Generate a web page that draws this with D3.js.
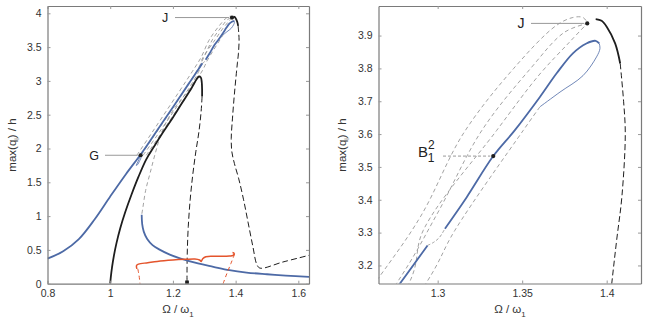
<!DOCTYPE html>
<html>
<head>
<meta charset="utf-8">
<script src="https://cdn.jsdelivr.net/npm/d3@7"></script>
<style>
  body { margin: 0; background: #fff; }
  text { font-family: "Liberation Sans", Arial, sans-serif; }
</style>
</head>
<body>
<div id="container"></div>
<script>
let w = 648;
let h = 325;

// ---- data (Omega/omega1, max(q)/h) ----
let blueUpper = [[0.8,0.37],[0.85,0.48],[0.9,0.66],[0.95,0.95],[1.0,1.29],[1.05,1.62],[1.1,1.93],
  [1.15,2.27],[1.2,2.61],[1.25,2.956],[1.2777,3.145],[1.294,3.261]];
let blueUpper2 = [[1.3043,3.312],[1.3172,3.408],[1.3329,3.533],[1.3457,3.612],[1.3605,3.713],[1.3704,3.785],
  [1.380,3.846],[1.388,3.876],[1.3935,3.884],[1.3956,3.876]];
let blueThinLoop = [[1.3956,3.876],[1.396,3.86],[1.394,3.835],[1.386,3.778],[1.3724,3.728],[1.3605,3.683]];
let blueThinG = [[1.10,1.93],[1.088,1.80],[1.083,1.75],[1.087,1.76],[1.10,1.88]];
let blueLower = [[1.1004,1.02],[1.102,0.88],[1.107,0.77],[1.118,0.66],[1.135,0.57],[1.159,0.50],[1.19,0.43],
  [1.2226,0.376],[1.28,0.3],[1.329,0.25],[1.38,0.2],[1.435,0.165],[1.5,0.14],[1.56,0.12],[1.634,0.10]];
let hook = [[1.294,3.261],[1.2975,3.27],[1.301,3.285],[1.3043,3.312]];

let blackBackbone = [[1.0,0],[1.002,0.1],[1.006,0.25],[1.012,0.42],[1.02,0.6],[1.032,0.82],[1.048,1.06],
  [1.068,1.32],[1.09,1.58],[1.115,1.84],[1.14,2.03],[1.17,2.25],[1.2,2.46],[1.23,2.68],[1.26,2.9],
  [1.275,3.02],[1.283,3.065],[1.289,3.05],[1.292,2.98],[1.293,2.88],[1.293,2.77]];
let blackDrop = [[1.293,2.77],[1.29,2.55],[1.283,2.25],[1.273,1.95],[1.263,1.6],[1.255,1.24],[1.249,0.85],
  [1.246,0.5],[1.245,0.2],[1.245,0.02]];
let blackPeak = [[1.3935,3.950],[1.397,3.945],[1.4,3.927],[1.405,3.876],[1.408,3.815]];
let blackPeakDash = [[1.408,3.815],[1.410,3.70],[1.411,3.60],[1.409,3.41],[1.4059,3.277],[1.403,3.145],
  [1.396,2.8],[1.39,2.45],[1.386,2.15],[1.388,1.95],[1.396,1.78],[1.41,1.55],[1.425,1.25],[1.44,0.9],
  [1.455,0.55],[1.468,0.28],[1.478,0.23],[1.55,0.32],[1.634,0.42]];

let grayUnstable = [[1.28,3.07],[1.2546,2.89],[1.201,2.57],[1.165,2.25],[1.145,1.95],[1.128,1.65],
  [1.113,1.38],[1.104,1.12],[1.1004,1.02]];
let grayL1 = [[1.085,1.90],[1.262,3.14],[1.29,3.35],[1.315,3.6],[1.345,3.8],[1.37,3.93],[1.38,3.955],[1.386,3.955],[1.3885,3.94]];
let grayL2 = [[1.098,1.90],[1.275,3.14],[1.30,3.36],[1.326,3.61],[1.355,3.80],[1.375,3.91],[1.3885,3.937]];
let grayL3 = [[1.105,1.90],[1.283,3.145],[1.2915,3.307],[1.3349,3.611],[1.36,3.78],[1.378,3.88],[1.3885,3.937]];
let grayL4 = [[1.115,1.90],[1.2935,3.149],[1.3102,3.307],[1.3506,3.611],[1.3605,3.683]];

let redSolid = [[1.085,0.22],[1.084,0.27],[1.09,0.29],[1.12,0.31],[1.15,0.33],[1.2,0.35],[1.24,0.36],
  [1.27,0.365],[1.285,0.35],[1.29,0.33],[1.295,0.37],[1.305,0.40],[1.34,0.405],[1.38,0.41],[1.392,0.42],
  [1.395,0.45],[1.39,0.46]];
let redDashL = [[1.088,0.22],[1.092,0.12],[1.095,0]];
let redDashR = [[1.397,0.44],[1.385,0.3],[1.372,0.15],[1.36,0]];

let pointJ = [1.3885, 3.937];
let pointG = [1.097, 1.90];
let pointB = [1.3329, 3.533];
let pointS = [1.245, 0.02];

let leftXTicks = [0.8, 1, 1.2, 1.4, 1.6];
let leftYTicks = [0, 0.5, 1, 1.5, 2, 2.5, 3, 3.5, 4];
let rightXTicks = [1.3, 1.35, 1.4];
let rightYTicks = [3.2, 3.3, 3.4, 3.5, 3.6, 3.7, 3.8, 3.9];

let blue = "#4d6aa6";
let dark = "#1e1e1e";
let grey = "#8a8a8a";
let red = "#e4542c";

let viz = d3.select("#container")
  .append("svg")
    .attr("width", w)
    .attr("height", h)
    .style("background-color", "white");

function makePanel(id, xDom, xRange, yDom, yRange, xTicks, yTicks){
  let x = d3.scaleLinear().domain(xDom).range(xRange);
  let y = d3.scaleLinear().domain(yDom).range(yRange);
  let g = viz.append("g");
  g.append("clipPath").attr("id", id)
    .append("rect")
      .attr("x", xRange[0]).attr("y", yRange[1])
      .attr("width", xRange[1] - xRange[0]).attr("height", yRange[0] - yRange[1]);
  let plot = g.append("g").attr("clip-path", "url(#" + id + ")");
  let fmt = d => d3.format("~g")(d);

  let ax = [
    {a: d3.axisBottom(x).tickValues(xTicks).tickFormat(fmt), t: "translate(0," + yRange[0] + ")"},
    {a: d3.axisTop(x).tickValues(xTicks).tickFormat(""), t: "translate(0," + yRange[1] + ")"},
    {a: d3.axisLeft(y).tickValues(yTicks).tickFormat(fmt), t: "translate(" + xRange[0] + ",0)"},
    {a: d3.axisRight(y).tickValues(yTicks).tickFormat(""), t: "translate(" + xRange[1] + ",0)"}
  ];
  ax.forEach(function(o){
    let s = g.append("g").attr("transform", o.t).call(o.a.tickSize(-3).tickPadding(6).tickSizeOuter(0));
    s.select(".domain").attr("stroke", "#7a7a7a").attr("stroke-width", 1.2);
    s.selectAll(".tick line").attr("stroke", "#999");
    s.selectAll(".tick text").attr("fill", "#333").style("font-size", "10.5px")
      .style("font-family", "Liberation Sans, Arial, sans-serif");
  });
  return {x: x, y: y, g: g, plot: plot};
}

function drawCurves(p, thick){
  let line = d3.line().x(d => p.x(d[0])).y(d => p.y(d[1])).curve(d3.curveCatmullRom);
  let add = function(data, color, width, dash){
    p.plot.append("path").datum(data)
      .attr("d", line)
      .attr("fill", "none")
      .attr("stroke", color)
      .attr("stroke-width", width)
      .attr("stroke-dasharray", dash || null);
  };
  [grayL1, grayL2, grayL3, grayL4].forEach(d => add(d, grey, 0.8, "4,3"));
  add(grayUnstable, grey, 0.8, "4,3");
  add(hook, grey, 0.8, "3,2");
  add(blackDrop, dark, 1.0, "6,3");
  add(blackPeakDash, dark, 1.0, "6,3");
  add(blueLower, blue, thick, null);
  add(blueUpper, blue, thick, null);
  add(blueUpper2, blue, thick, null);
  add(blueThinLoop, blue, 0.8, null);
  add(blueThinG, blue, 0.8, null);
  add(blackBackbone, dark, thick, null);
  add(blackPeak, dark, thick, null);
  add(redSolid, red, 1.5, null);
  add(redDashL, red, 1.0, "4,3");
  add(redDashR, red, 1.0, "4,3");
}

function marker(p, pt, shape){
  p.plot.append("path")
    .attr("d", d3.symbol().type(shape).size(14)())
    .attr("transform", "translate(" + p.x(pt[0]) + "," + p.y(pt[1]) + ")")
    .attr("fill", dark);
}

function leader(p, pt, lx, dashed){
  let px = p.x(pt[0]), py = p.y(pt[1]);
  p.g.append("line")
    .attr("x1", lx).attr("y1", py).attr("x2", px - 3).attr("y2", py)
    .attr("stroke", "#999").attr("stroke-width", 1)
    .attr("stroke-dasharray", dashed ? "3,2" : null);
}

// ---- left panel ----
let left = makePanel("clipL", [0.8, 1.634], [47.5, 309], [0, 4.108], [283.7, 6], leftXTicks, leftYTicks);
drawCurves(left, 1.8);
marker(left, pointJ, d3.symbolCircle);
marker(left, pointG, d3.symbolCircle);
marker(left, pointS, d3.symbolSquare);
leader(left, pointJ, 175);
leader(left, pointG, 105);
left.g.append("text").text("J").attr("x", 165).attr("y", left.y(pointJ[1]) + 4.5)
  .attr("text-anchor", "middle").style("font-size", "12.5px").attr("fill", "#222");
left.g.append("text").text("G").attr("x", 94).attr("y", left.y(pointG[1]) + 4.5)
  .attr("text-anchor", "middle").style("font-size", "12.5px").attr("fill", "#222");

// ---- right panel ----
let right = makePanel("clipR", [1.265, 1.4203], [378.5, 641], [3.145, 3.99], [283.5, 6], rightXTicks, rightYTicks);
drawCurves(right, 1.8);
marker(right, pointJ, d3.symbolCircle);
marker(right, pointB, d3.symbolCircle);
leader(right, pointJ, 531);
leader(right, pointB, 443, true);
right.g.append("text").text("J").attr("x", 521).attr("y", right.y(pointJ[1]) + 5)
  .attr("text-anchor", "middle").style("font-size", "14px").attr("fill", "#222");
let bl = right.g.append("text").attr("x", 418).attr("y", right.y(pointB[1]) + 1).attr("fill", "#222")
  .style("font-size", "15px");
bl.append("tspan").text("B");
bl.append("tspan").text("2").attr("dy", -8).style("font-size", "12px");
bl.append("tspan").text("1").attr("dx", -7).attr("dy", 13).style("font-size", "12px");

// ---- axis titles ----
function titles(cx, cy, ylx){
  let t = viz.append("text").attr("x", cx).attr("y", 313).attr("text-anchor", "middle")
    .style("font-size", "11.5px").attr("fill", "#333");
  t.append("tspan").text("\u03a9 / \u03c9");
  t.append("tspan").text("1").attr("dy", 4).style("font-size", "8px");
  let yl = viz.append("text").attr("transform", "translate(" + ylx + "," + cy + ") rotate(-90)")
    .attr("text-anchor", "middle").style("font-size", "11.5px").attr("fill", "#333");
  yl.append("tspan").text("max(q");
  yl.append("tspan").text("i").attr("dy", 3).style("font-size", "7px");
  yl.append("tspan").text(") / h").attr("dy", -3);
}
titles(178, 145, 16);
titles(510, 145, 346);
</script>
</body>
</html>
